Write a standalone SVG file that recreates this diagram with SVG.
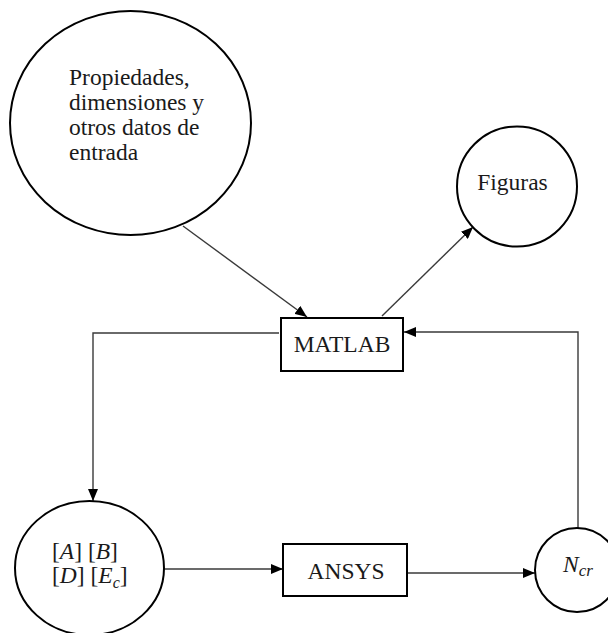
<svg xmlns="http://www.w3.org/2000/svg" width="608" height="633" viewBox="0 0 608 633">
  <style>
    .shape { fill: #ffffff; stroke: #000000; stroke-width: 2; }
    .link { fill: none; stroke: #3a3a3a; stroke-width: 1.4; }
    .label { font-family: "Liberation Serif", "Times New Roman", serif; font-size: 23.5px; fill: #1a1a1a; }
    .math { font-family: "Liberation Serif", "Times New Roman", serif; font-size: 23.5px; fill: #1a1a1a; }
    .it { font-style: italic; }
  </style>
  <defs>
    <marker id="arrow" markerWidth="13" markerHeight="10" refX="12" refY="5" orient="auto" markerUnits="userSpaceOnUse">
      <path d="M0,0 L12,5 L0,10 z" fill="#000000"/>
    </marker>
  </defs>

  <rect width="608" height="633" fill="#ffffff"/>

  <!-- connectors -->
  <g id="connectors">
    <line class="link" x1="183" y1="226" x2="307" y2="317" marker-end="url(#arrow)"/>
    <line class="link" x1="382" y1="316" x2="473" y2="227" marker-end="url(#arrow)"/>
    <polyline class="link" points="578,528 578,332 404,332" marker-end="url(#arrow)"/>
    <polyline class="link" points="279,333 93,333 93,501" marker-end="url(#arrow)"/>
    <line class="link" x1="164" y1="569" x2="283" y2="569" marker-end="url(#arrow)"/>
    <line class="link" x1="407" y1="573" x2="535" y2="573" marker-end="url(#arrow)"/>
  </g>

  <!-- input data -->
  <g id="node-input">
    <ellipse class="shape" cx="130.5" cy="123" rx="120.5" ry="112"/>
    <text class="label" x="69" y="85">Propiedades,</text>
    <text class="label" x="69" y="110">dimensiones y</text>
    <text class="label" x="69" y="135">otros datos de</text>
    <text class="label" x="69" y="160">entrada</text>
  </g>

  <!-- figures output -->
  <g id="node-figuras">
    <circle class="shape" cx="517" cy="186.5" r="60"/>
    <text class="label" x="512.5" y="190" text-anchor="middle">Figuras</text>
  </g>

  <!-- MATLAB -->
  <g id="node-matlab">
    <rect class="shape" x="281" y="318" width="122" height="53"/>
    <text class="label" x="342" y="352" text-anchor="middle">MATLAB</text>
  </g>

  <!-- matrices -->
  <g id="node-matrices">
    <ellipse class="shape" cx="89.5" cy="568" rx="74.5" ry="67"/>
    <text class="math" x="52" y="559">[<tspan class="it">A</tspan>] [<tspan class="it">B</tspan>]</text>
    <text class="math" x="52" y="583">[<tspan class="it">D</tspan>] [<tspan class="it">E</tspan><tspan class="it" font-size="16" dy="5">c</tspan><tspan dy="-5">]</tspan></text>
  </g>

  <!-- ANSYS -->
  <g id="node-ansys">
    <rect class="shape" x="283" y="544" width="124" height="52"/>
    <text class="label" x="346" y="579" text-anchor="middle">ANSYS</text>
  </g>

  <!-- critical load -->
  <g id="node-ncr">
    <circle class="shape" cx="577" cy="570" r="42"/>
    <text class="math" x="563" y="572"><tspan class="it">N</tspan><tspan class="it" font-size="17" dy="4">cr</tspan></text>
  </g>
</svg>
